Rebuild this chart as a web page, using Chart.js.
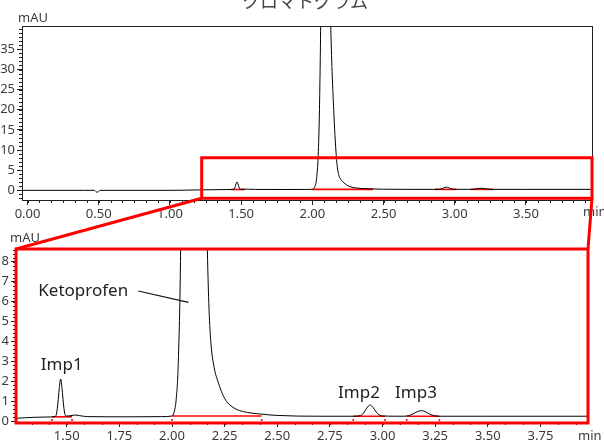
<!DOCTYPE html>
<html>
<head>
<meta charset="utf-8">
<script src="https://cdn.jsdelivr.net/npm/chart.js@4.4.1/dist/chart.umd.min.js"></script>
<style>
  html, body { margin: 0; padding: 0; background: #fff; }
  #wrap { position: relative; width: 604px; height: 441px; overflow: hidden; }
  #wrap canvas { position: absolute; left: 0; }
</style>
</head>
<body>
<div id="wrap">
  <canvas id="overview" width="604" height="222" style="top:0"></canvas>
  <canvas id="detail" width="604" height="219" style="top:222px"></canvas>
  <canvas id="links" width="604" height="441" style="top:0;pointer-events:none"></canvas>
</div>
<script>
// chromatogram trace (min, mAU)
const times = [-0.04, 0.40, 0.47, 0.48, 0.49, 0.50, 0.51, 1.00, 1.20, 1.40,
  1.445, 1.452, 1.458, 1.464, 1.471, 1.478, 1.484, 1.49, 1.497, 1.52, 1.54, 1.56, 1.60,
  1.80, 1.95, 2.00, 2.01, 2.02, 2.03, 2.041, 2.05, 2.06, 2.07, 2.08, 2.09, 2.10, 2.115,
  2.13, 2.15, 2.168, 2.176, 2.185, 2.20, 2.221, 2.24, 2.26, 2.30, 2.34, 2.42, 2.50,
  2.70, 2.86, 2.895, 2.91, 2.925, 2.941, 2.955, 2.97, 2.985, 3.00,
  3.10, 3.125, 3.145, 3.165, 3.186, 3.205, 3.225, 3.245, 3.27, 3.50, 3.976];
const mAU = [0, 0, 0, -0.3, -0.5, -0.2, 0, 0, 0.1, 0.2,
  0.22, 0.4, 0.9, 1.6, 2.11, 1.6, 0.9, 0.4, 0.25, 0.27, 0.3, 0.27, 0.22,
  0.21, 0.22, 0.25, 0.45, 1.1, 3.0, 8.6, 20, 45, 80, 110, 120, 105, 70,
  40, 20, 8.6, 5.6, 3.9, 2.7, 1.9, 1.35, 0.97, 0.62, 0.47, 0.35, 0.28,
  0.24, 0.24, 0.27, 0.4, 0.65, 0.8, 0.68, 0.45, 0.3, 0.25,
  0.24, 0.27, 0.36, 0.47, 0.52, 0.46, 0.34, 0.27, 0.24, 0.24, 0.24];

// integration baselines (red)
const intStart = [1.43, 2.00, 2.861, 3.115];
const intEnd = [1.525, 2.426, 3.012, 3.27];
const intLevel = [0.21, 0.25, 0.24, 0.24];

const peakNames = ['Imp1', 'Ketoprofen', 'Imp2', 'Imp3'];

// tick labels
const topXTicks = [0, 0.5, 1.0, 1.5, 2.0, 2.5, 3.0, 3.5];
const topYTicks = [0, 5, 10, 15, 20, 25, 30, 35];
const zoomXTicks = [1.5, 1.75, 2.0, 2.25, 2.5, 2.75, 3.0, 3.25, 3.5, 3.75];
const zoomYTicks = [0, 1, 2, 3, 4, 5, 6, 7, 8];

// annotation placement (data units)
const zoomBox = { x0: 1.223, x1: 3.964, y0: -1.98, y1: 8.09 };
const labelPos = [
  { x: 1.476, y: 2.81, align: 'center' },
  { x: 1.365, y: 6.5, align: 'left' },
  { x: 2.888, y: 1.41, align: 'center' },
  { x: 3.159, y: 1.41, align: 'center' }
];
const leader = { x0: 1.84, y0: 6.53, x1: 2.078, y1: 5.96 };

Chart.defaults.font.family = '"Noto Sans", "Noto Sans CJK JP", sans-serif';
Chart.defaults.color = '#3a3a3a';

const trace = times.map((t, i) => ({ x: t, y: mAU[i] }));

function buildDatasets(withDots) {
  const ds = [{
    data: trace, borderColor: '#000', borderWidth: 1, pointRadius: 0,
    cubicInterpolationMode: 'monotone'
  }];
  intStart.forEach((s, i) => {
    ds.push({
      data: [{ x: s, y: intLevel[i] }, { x: intEnd[i], y: intLevel[i] }],
      borderColor: '#ff0000', borderWidth: 1.6, pointRadius: 0
    });
  });
  if (withDots) {
    const dots = [];
    intStart.forEach((s, i) => { dots.push({ x: s, y: 0.05 }, { x: intEnd[i], y: 0.05 }); });
    ds.push({ data: dots, showLine: false, pointRadius: 1, borderWidth: 0, pointBackgroundColor: '#ff0000' });
  }
  return ds;
}

function minorTicks(from, to, step) {
  const out = [];
  for (let k = Math.ceil(from / step - 1e-9); k * step <= to + 1e-9; k++) out.push(k * step);
  return out;
}

function makeOptions(c) {
  return {
    responsive: false, animation: false, events: [],
    layout: { padding: { left: 0, top: c.padTop, right: c.padRight, bottom: 0 } },
    plugins: { legend: { display: false }, tooltip: { enabled: false } },
    scales: {
      x: {
        type: 'linear', min: c.xMin, max: c.xMax,
        afterFit: s => { s.height = c.xHeight; },
        afterBuildTicks: s => { s.ticks = c.xTicks.map(v => ({ value: v })); },
        ticks: { autoSkip: false, maxRotation: 0, padding: 1, font: { size: 13 }, color: '#3a3a3a',
          callback: v => v.toFixed(2) },
        grid: { drawOnChartArea: false, tickLength: 5, color: '#222' },
        border: { display: false }
      },
      y: {
        min: c.yMin, max: c.yMax,
        afterFit: s => { s.width = c.yWidth; },
        afterBuildTicks: s => { s.ticks = c.yTicks.map(v => ({ value: v })); },
        ticks: { autoSkip: false, padding: 2, font: { size: 13 }, color: '#3a3a3a',
          callback: v => String(v) },
        grid: { drawOnChartArea: false, tickLength: 5, color: '#222' },
        border: { display: false }
      }
    }
  };
}

function decor(c) {
  return {
    id: 'decor' + c.name,
    afterDraw(chart) {
      const ctx = chart.ctx, a = chart.chartArea;
      const sx = chart.scales.x, sy = chart.scales.y;
      ctx.save();
      // frame
      ctx.strokeStyle = '#222'; ctx.lineWidth = 1;
      ctx.strokeRect(Math.round(a.left) + 0.5, Math.round(a.top) + 0.5,
        Math.round(a.right - a.left) - 1, Math.round(a.bottom - a.top));
      // minor ticks
      ctx.beginPath();
      minorTicks(sx.min, sx.max, c.xMinor).forEach(v => {
        const px = Math.round(sx.getPixelForValue(v)) + 0.5;
        ctx.moveTo(px, a.bottom); ctx.lineTo(px, a.bottom + 3);
      });
      minorTicks(sy.min, sy.max, c.yMinor).forEach(v => {
        const py = Math.round(sy.getPixelForValue(v)) + 0.5;
        ctx.moveTo(a.left, py); ctx.lineTo(a.left - 3, py);
      });
      ctx.stroke();
      // unit labels
      ctx.fillStyle = '#3a3a3a';
      ctx.font = '13px "Noto Sans", sans-serif';
      ctx.textBaseline = 'middle';
      ctx.textAlign = 'left';
      ctx.fillText('mAU', a.left + c.mauDx, a.top + c.mauDy);
      ctx.fillText('min', a.right - 10, a.bottom + c.minDy);
      if (c.title) {
        ctx.font = '18px "Noto Sans CJK JP", sans-serif';
        ctx.textAlign = 'center';
        ctx.textBaseline = 'alphabetic';
        ctx.fillStyle = '#444';
        ctx.fillText(c.title, 305, 8);
      }
      if (c.labels) {
        ctx.font = '17px "Noto Sans", sans-serif';
        ctx.fillStyle = '#222';
        ctx.textBaseline = 'middle';
        labelPos.forEach((p, i) => {
          ctx.textAlign = p.align;
          ctx.fillText(peakNames[i], sx.getPixelForValue(p.x), sy.getPixelForValue(p.y));
        });
        ctx.strokeStyle = '#111'; ctx.lineWidth = 1.2;
        ctx.beginPath();
        ctx.moveTo(sx.getPixelForValue(leader.x0), sy.getPixelForValue(leader.y0));
        ctx.lineTo(sx.getPixelForValue(leader.x1), sy.getPixelForValue(leader.y1));
        ctx.stroke();
      }
      // red zoom box
      ctx.strokeStyle = '#ff0000'; ctx.lineWidth = 3;
      if (c.box) {
        const x0 = sx.getPixelForValue(zoomBox.x0), x1 = sx.getPixelForValue(zoomBox.x1);
        const y0 = sy.getPixelForValue(zoomBox.y0), y1 = sy.getPixelForValue(zoomBox.y1);
        ctx.strokeRect(x0, y1, x1 - x0, y0 - y1);
      } else {
        ctx.strokeRect(a.left, a.top, a.right - a.left, a.bottom - a.top + 1);
      }
      ctx.restore();
    }
  };
}

const topCfg = {
  name: 'Top', padTop: 26, padRight: 11, xHeight: 22, yWidth: 22,
  xMin: -0.039, xMax: 3.971, yMin: -2.4, yMax: 40.8,
  xTicks: topXTicks, yTicks: topYTicks, xMinor: 1 / 12, yMinor: 1,
  mauDx: -4, mauDy: -8, minDy: 12, title: 'クロマトグラム', box: true
};
const zoomCfg = {
  name: 'Zoom', padTop: 27, padRight: 16, xHeight: 19, yWidth: 16,
  xMin: 1.259, xMax: 3.976, yMin: -0.05, yMax: 8.64,
  xTicks: zoomXTicks, yTicks: zoomYTicks, xMinor: 1 / 12, yMinor: 0.2,
  mauDx: -6, mauDy: -11, minDy: 14, labels: true, box: false
};

const topChart = new Chart(document.getElementById('overview'), {
  type: 'line',
  data: { datasets: buildDatasets(false) },
  options: makeOptions(topCfg),
  plugins: [decor(topCfg)]
});
const zoomChart = new Chart(document.getElementById('detail'), {
  type: 'line',
  data: { datasets: buildDatasets(true) },
  options: makeOptions(zoomCfg),
  plugins: [decor(zoomCfg)]
});

// red connectors between the two panels
const lc = document.getElementById('links').getContext('2d');
const tx = topChart.scales.x, ty = topChart.scales.y;
const za = zoomChart.chartArea;
const offset = 222;
lc.strokeStyle = '#ff0000';
lc.lineWidth = 3;
lc.beginPath();
lc.moveTo(tx.getPixelForValue(zoomBox.x0), ty.getPixelForValue(zoomBox.y0));
lc.lineTo(za.left, za.top + offset);
lc.moveTo(tx.getPixelForValue(zoomBox.x1), ty.getPixelForValue(zoomBox.y0));
lc.lineTo(za.right, za.top + offset);
lc.stroke();
</script>
</body>
</html>
